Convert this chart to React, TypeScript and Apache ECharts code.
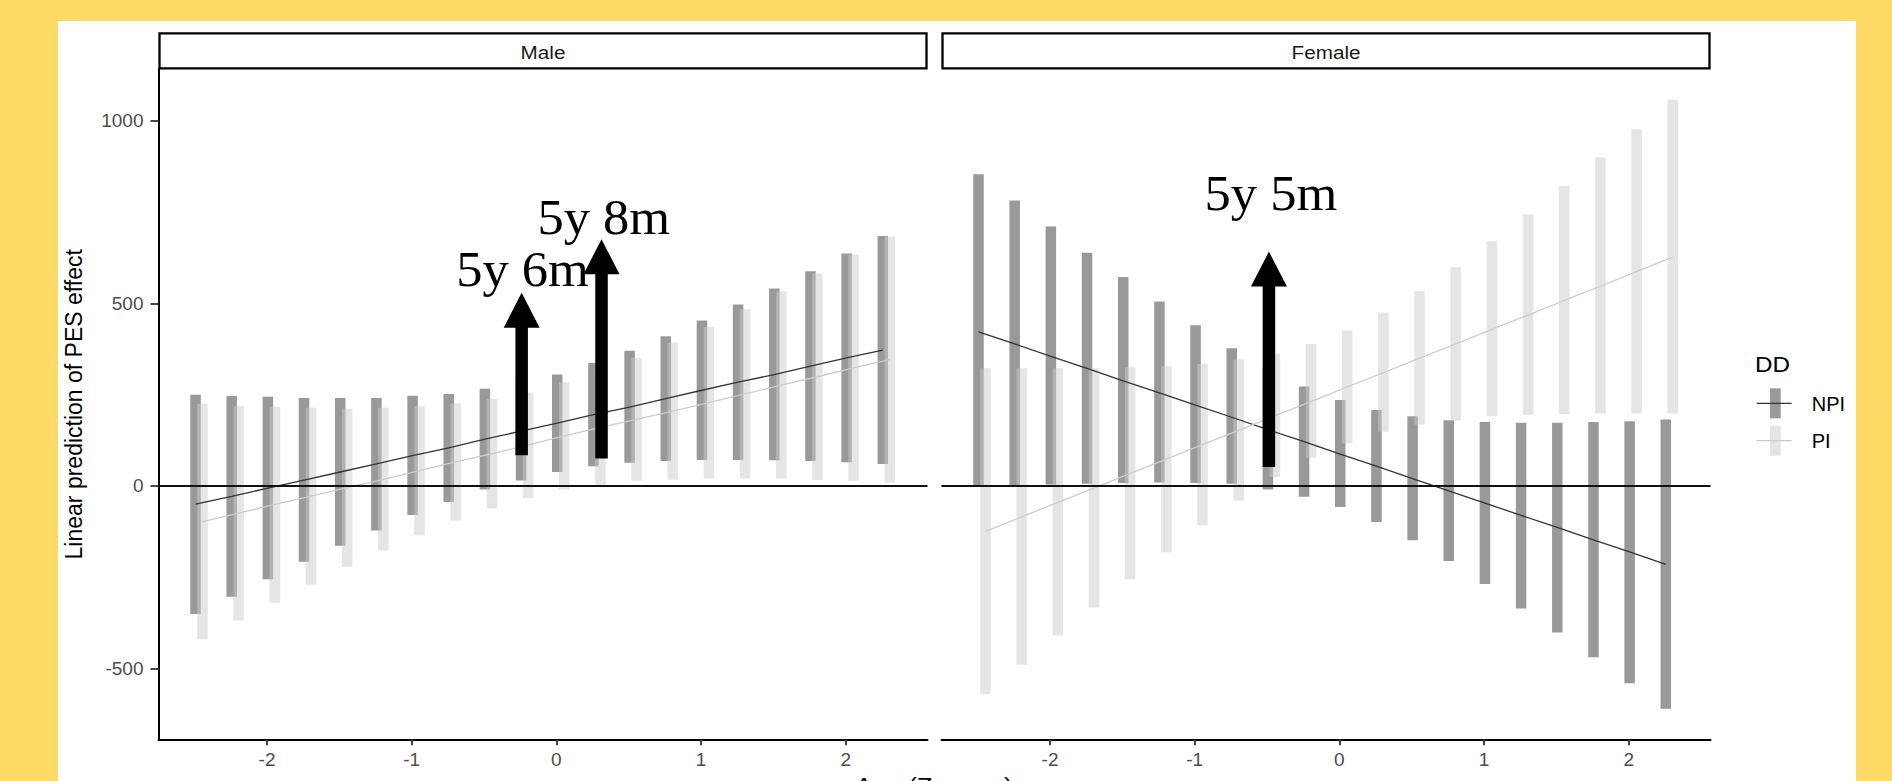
import React, { useEffect, useRef } from "react";
import * as echarts from "echarts";

// ---------- data ----------
const ageZ = [-2.5, -2.25, -2, -1.75, -1.5, -1.25, -1, -0.75, -0.5, -0.25, 0, 0.25, 0.5, 0.75, 1, 1.25, 1.5, 1.75, 2, 2.25];
const panels = ["Male", "Female"];
const groups = ["NPI", "PI"];

const maleNpiLower = [-351, -304, -256, -208, -164, -122, -80, -44, -10, 15, 38, 54, 63, 68, 71, 71, 70, 68, 65, 60];
const maleNpiUpper = [250, 246, 244, 241, 241, 241, 247, 252, 266, 285, 305, 337, 370, 410, 453, 497, 541, 588, 637, 685];
const maleNpiEst = [-50, -29, -6, 16, 38, 60, 83, 104, 128, 150, 172, 195, 216, 239, 262, 284, 305, 328, 351, 372];

const malePiLower = [-420, -368, -320, -271, -222, -177, -135, -95, -62, -33, -10, 4, 14, 17, 20, 20, 20, 16, 14, 9];
const malePiUpper = [225, 218, 217, 214, 212, 214, 218, 226, 239, 256, 284, 316, 351, 392, 436, 484, 533, 582, 633, 683];
const malePiEst = [-98, -75, -51, -28, -5, 18, 42, 66, 88, 112, 137, 160, 182, 205, 228, 252, 276, 299, 323, 346];

const femaleNpiLower = [0, 2, 4, 6, 8, 9, 8, 6, -10, -30, -58, -99, -149, -206, -269, -336, -402, -470, -541, -611];
const femaleNpiUpper = [854, 782, 711, 639, 572, 505, 440, 377, 322, 272, 235, 208, 191, 180, 175, 173, 173, 175, 177, 182];
const femaleNpiEst = [422, 389, 355, 322, 288, 255, 221, 188, 154, 121, 87, 54, 20, -14, -47, -81, -114, -148, -181, -215];

const femalePiLower = [-571, -490, -410, -333, -256, -182, -108, -40, 24, 77, 116, 148, 168, 180, 191, 195, 196, 198, 198, 198];
const femalePiUpper = [322, 322, 322, 322, 325, 328, 334, 346, 361, 389, 426, 475, 533, 599, 670, 744, 822, 900, 977, 1058];
const femalePiEst = [-125, -85, -45, -6, 34, 73, 113, 152, 192, 231, 271, 310, 350, 389, 429, 468, 508, 547, 587, 627];

const xTicks = [-2, -1, 0, 1, 2];
const yTicks = [-500, 0, 500, 1000];
const xRange = [-2.75, 2.565];
const yRange = [-694.5, 1141.5];

// annotations (data coordinates)
const arrowPanel = [0, 0, 1];
const arrowX = [-0.24, 0.312, -0.487];
const arrowFrom = [84, 75, 52];
const arrowTo = [529, 676, 642];
const arrowLabels = ["5y 6m", "5y 8m", "5y 5m"];
const labelX = [-0.234, 0.328, -0.473];
const labelY = [594, 737, 802];

const xTitle = "Age (Z-score)";
const yTitle = "Linear prediction of PES effect";
const legendTitle = "DD";

// ---------- styles ----------
const lineColors = ["#333333", "#CCCCCC"];
const barColors = ["rgba(51,51,51,0.5)", "rgba(204,204,204,0.5)"];
const dodge = [0.006, 0.054];
const SANS = "'Liberation Sans', Arial, sans-serif";
const SERIF = "'Liberation Serif', 'Times New Roman', serif";

const grids = [
  { left: 158.5, top: 69.3, width: 769, height: 670 },
  { left: 941.5, top: 69.3, width: 769, height: 670 },
];

const seriesData = [
  [
    { lo: maleNpiLower, hi: maleNpiUpper, est: maleNpiEst },
    { lo: malePiLower, hi: malePiUpper, est: malePiEst },
  ],
  [
    { lo: femaleNpiLower, hi: femaleNpiUpper, est: femaleNpiEst },
    { lo: femalePiLower, hi: femalePiUpper, est: femalePiEst },
  ],
];

function buildOption() {
  const series: any[] = [];
  panels.forEach((_, p) => {
    groups.forEach((g, gi) => {
      const d = seriesData[p][gi];
      series.push({
        type: "custom",
        name: g,
        xAxisIndex: p,
        yAxisIndex: p,
        z: 2,
        encode: { x: 0, y: [1, 2] },
        data: ageZ.map((x, i) => [x + dodge[gi], d.lo[i], d.hi[i]]),
        renderItem: (params: any, api: any) => {
          const x = api.value(0);
          const a = api.coord([x, api.value(1)]);
          const b = api.coord([x, api.value(2)]);
          const w = 10.5;
          return {
            type: "rect",
            shape: { x: a[0] - w / 2, y: b[1], width: w, height: a[1] - b[1] },
            style: { fill: barColors[gi] },
          };
        },
      });
    });
    groups.forEach((g, gi) => {
      const d = seriesData[p][gi];
      series.push({
        type: "line",
        name: g,
        xAxisIndex: p,
        yAxisIndex: p,
        z: 3,
        showSymbol: false,
        symbol: "none",
        lineStyle: { color: lineColors[gi], width: 1.3 },
        data: ageZ.map((x, i) => [x + dodge[gi], d.est[i]]),
        markLine:
          gi === 1
            ? {
                silent: true,
                symbol: ["none", "none"],
                label: { show: false },
                lineStyle: { color: "#111", width: 1.8, type: "solid" },
                data: [{ yAxis: 0 }],
              }
            : undefined,
      });
    });
    const idx = arrowPanel.map((ap, i) => (ap === p ? i : -1)).filter((i) => i >= 0);
    series.push({
      type: "custom",
      xAxisIndex: p,
      yAxisIndex: p,
      z: 6,
      silent: true,
      encode: { x: 0, y: [1, 2] },
      data: idx.map((i) => [arrowX[i], arrowFrom[i], arrowTo[i], labelX[i], labelY[i], i]),
      renderItem: (params: any, api: any) => {
        const x = api.value(0);
        const base = api.coord([x, api.value(1)]);
        const tip = api.coord([x, api.value(2)]);
        const lab = api.coord([api.value(3), api.value(4)]);
        const i = api.value(5);
        const headLen = 35;
        const headW = 36;
        const shaftW = 12.5;
        return {
          type: "group",
          children: [
            {
              type: "rect",
              shape: { x: base[0] - shaftW / 2, y: tip[1] + headLen - 1, width: shaftW, height: base[1] - tip[1] - headLen + 1 },
              style: { fill: "#000" },
            },
            {
              type: "polygon",
              shape: { points: [[tip[0], tip[1]], [tip[0] - headW / 2, tip[1] + headLen], [tip[0] + headW / 2, tip[1] + headLen]] },
              style: { fill: "#000" },
            },
            {
              type: "text",
              x: lab[0],
              y: lab[1],
              scaleX: 1.05,
              style: {
                text: arrowLabels[i],
                fill: "#000",
                fontFamily: SERIF,
                fontSize: 50,
                align: "center",
                verticalAlign: "middle",
              },
            },
          ],
        };
      },
    });
  });

  const fmt = (v: number) => String(v);
  const xAxis = panels.map((_, p) => ({
    type: "value",
    gridIndex: p,
    min: xRange[0],
    max: xRange[1],
    splitLine: { show: false },
    axisLine: { show: true, onZero: false, lineStyle: { color: "#000", width: 2 } },
    axisTick: { show: true, length: 6, customValues: xTicks, lineStyle: { color: "#333", width: 1.8 } },
    axisLabel: { customValues: xTicks, formatter: fmt, color: "#4d4d4d", fontSize: 19, fontFamily: SANS, margin: 11 },
  }));
  const yAxis = panels.map((_, p) => ({
    type: "value",
    gridIndex: p,
    min: yRange[0],
    max: yRange[1],
    splitLine: { show: false },
    axisLine: { show: p === 0, onZero: false, lineStyle: { color: "#000", width: 2 } },
    axisTick: { show: p === 0, length: 8, customValues: yTicks, lineStyle: { color: "#333", width: 1.8 } },
    axisLabel: { show: p === 0, customValues: yTicks, formatter: fmt, color: "#4d4d4d", fontSize: 19, fontFamily: SANS, margin: 15 },
  }));

  const graphic: any[] = [
    { type: "rect", z: -10, shape: { x: 58, y: 21, width: 1798, height: 760 }, style: { fill: "#fff" } },
  ];
  panels.forEach((name, p) => {
    const g = grids[p];
    graphic.push({
      type: "rect",
      z: 10,
      shape: { x: g.left + 1, y: 33.4, width: g.width - 2, height: 35 },
      style: { fill: "#fff", stroke: "#000", lineWidth: 2.3 },
    });
    graphic.push({
      type: "text",
      z: 11,
      x: g.left + g.width / 2,
      y: 52.5,
      scaleX: 1.12,
      style: { text: name, fill: "#1a1a1a", fontFamily: SANS, fontSize: 18.5, align: "center", verticalAlign: "middle" },
    });
  });
  // axis titles
  graphic.push({
    type: "text",
    z: 11,
    x: 74,
    y: 404.3,
    rotation: Math.PI / 2,
    style: { text: yTitle, fill: "#000", fontFamily: SANS, fontSize: 23, align: "center", verticalAlign: "middle" },
  });
  graphic.push({
    type: "text",
    z: 11,
    x: 934,
    y: 785,
    scaleX: 1.12,
    style: { text: xTitle, fill: "#000", fontFamily: SANS, fontSize: 23, align: "center", verticalAlign: "middle" },
  });
  // legend
  graphic.push({
    type: "text",
    z: 11,
    x: 1755,
    y: 364,
    scaleX: 1.1,
    style: { text: legendTitle, fill: "#000", fontFamily: SANS, fontSize: 22, align: "left", verticalAlign: "middle" },
  });
  const keyY = [403.3, 440.7];
  groups.forEach((g, gi) => {
    graphic.push({
      type: "rect",
      z: 11,
      shape: { x: 1770, y: keyY[gi] - 15, width: 10.7, height: 30 },
      style: { fill: barColors[gi] },
    });
    graphic.push({
      type: "line",
      z: 12,
      shape: { x1: 1756.7, y1: keyY[gi], x2: 1791.7, y2: keyY[gi] },
      style: { stroke: lineColors[gi], lineWidth: 1.3 },
    });
    graphic.push({
      type: "text",
      z: 12,
      x: 1811.7,
      y: keyY[gi] + 0.5,
      style: { text: g, fill: "#000", fontFamily: SANS, fontSize: 20, align: "left", verticalAlign: "middle" },
    });
  });

  return {
    animation: false,
    backgroundColor: "#FFD966",
    grid: grids.map((g) => ({ ...g, containLabel: false })),
    xAxis,
    yAxis,
    series,
    graphic,
  };
}

export default function App() {
  const ref = useRef<HTMLDivElement>(null);
  useEffect(() => {
    document.body.style.margin = "0";
    const chart = echarts.init(ref.current!, undefined, { renderer: "svg" });
    chart.setOption(buildOption() as any);
    return () => chart.dispose();
  }, []);
  return <div ref={ref} style={{ position: "fixed", left: 0, top: 0, width: 1892, height: 781 }} />;
}
